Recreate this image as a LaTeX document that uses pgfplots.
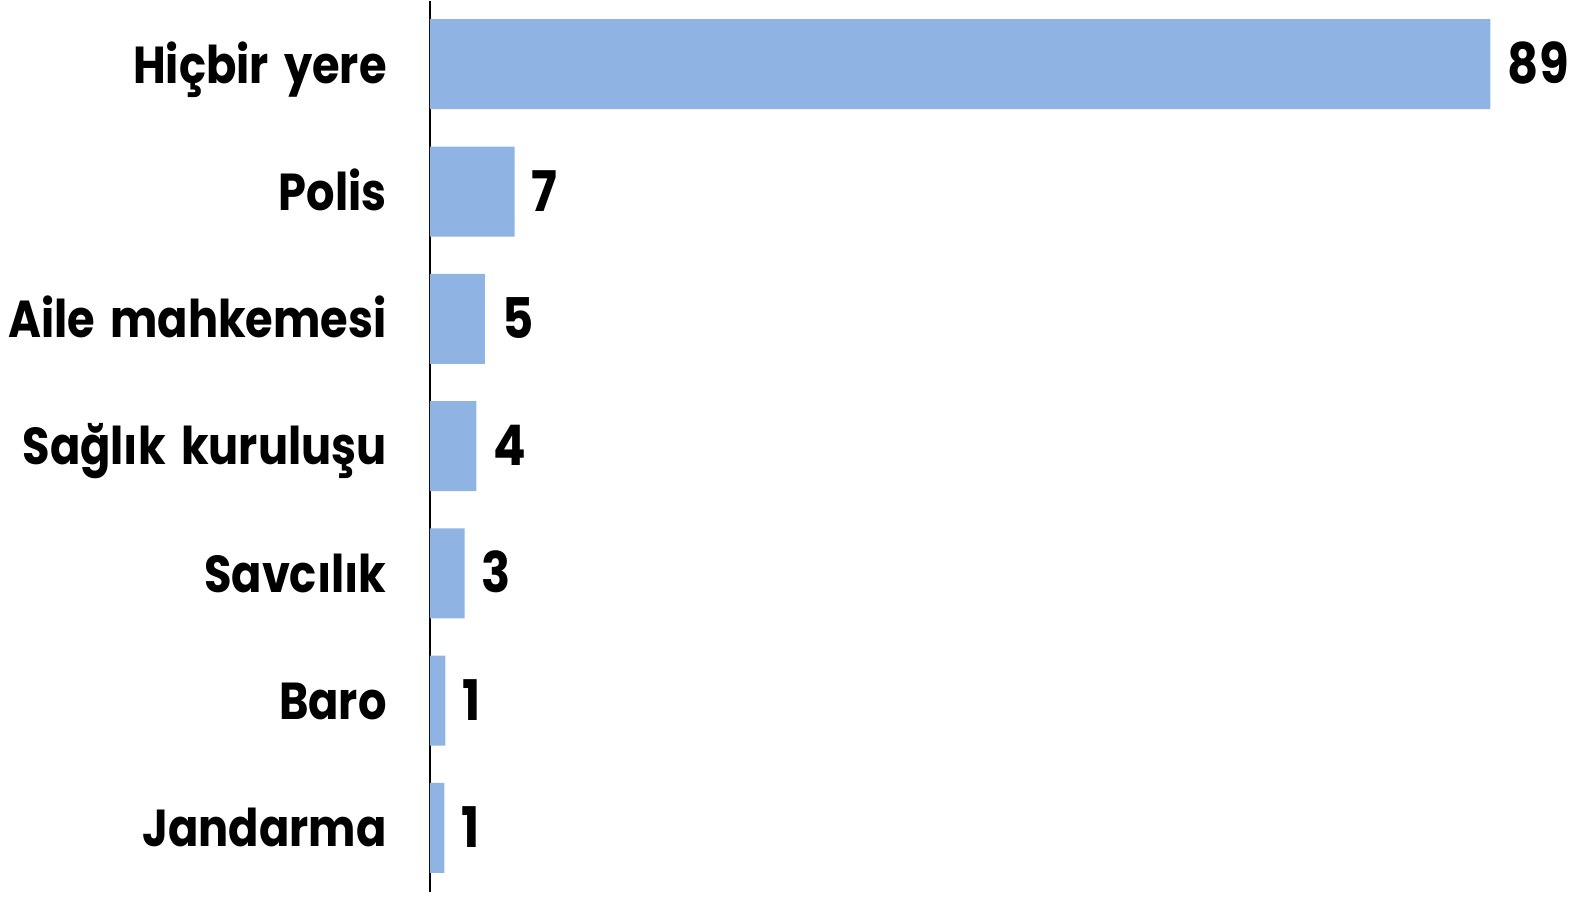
\documentclass[border=0pt]{standalone}
\usepackage{fontspec}
\setmainfont{Poppins}[FakeStretch=0.86, WordSpace=1.6]
\usepackage{pgfplots}
\pgfplotsset{compat=1.18}
\usetikzlibrary{calc}
\definecolor{barblue}{HTML}{8FB4E3}

\begin{document}
\begin{tikzpicture}
\begin{axis}[
    scale only axis,
    width=575.5pt, height=445.5pt,
    xbar, bar width=45pt,
    xmin=0, xmax=96.6,
    ymin=-0.5, ymax=6.5,
    y dir=reverse,
    axis x line=none,
    axis y line=left,
    axis line style={-, black, line width=1.1pt},
    ytick={0,...,6},
    yticklabels={Hiçbir yere, Polis, Aile mahkemesi, Sağlık kuruluşu, Savcılık, Baro, Jandarma},
    major tick length=0pt,
    yticklabel style={font=\bfseries\fontsize{26}{30}\selectfont, inner sep=0pt, anchor=base east, xshift=-21.5pt, yshift=-9.4pt},
    point meta=explicit symbolic,
    nodes near coords={\pgfplotspointmeta},
    every node near coord/.append style={font=\bfseries\fontsize{28}{32}\selectfont, black, inner sep=0pt, anchor=base west, xshift=8.5pt, yshift=-9.8pt},
    clip=false,
]
\addplot[fill=barblue, draw=none] coordinates {
    (89,0) [89]
    (7.1,1) [7]
    (4.6,2) [5]
    (3.9,3) [4]
    (2.9,4) [3]
    (1.3,5) [1]
    (1.2,6) [1]
};
\end{axis}
\pgfresetboundingbox
\path ($(current axis.south west)+(-215pt,-3pt)$) rectangle ($(current axis.north east)+(0,0.3pt)$);
\end{tikzpicture}
\end{document}
